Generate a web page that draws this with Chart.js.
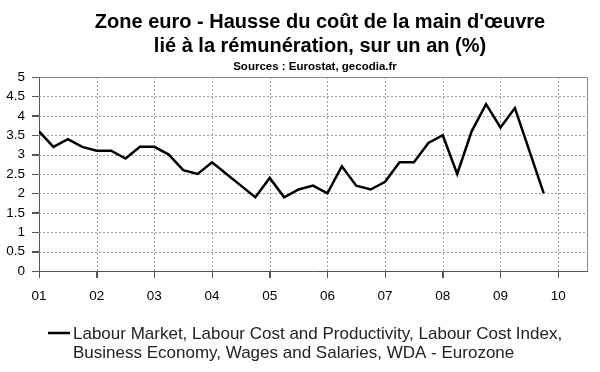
<!DOCTYPE html>
<html>
<head>
<meta charset="utf-8">
<script src="https://cdn.jsdelivr.net/npm/chart.js@4.4.0/dist/chart.umd.min.js"></script>
<style>
  html, body { margin: 0; padding: 0; background: #fff; }
  #wrap { width: 600px; height: 372px; }
</style>
</head>
<body>
<div id="wrap"><canvas id="chart" width="600" height="372"></canvas></div>
<script>
// titles and legend text
const titleLines = ["Zone euro - Hausse du coût de la main d'œuvre", "lié à la rémunération, sur un an (%)"];
const subtitle = "Sources : Eurostat, gecodia.fr";
const legendLines = [
  "Labour Market, Labour Cost and Productivity, Labour Cost Index,",
  "Business Economy, Wages and Salaries, WDA - Eurozone"
];

// x axis tick labels (one per year)
const yearLabels = ["01", "02", "03", "04", "05", "06", "07", "08", "09", "10"];

// quarterly periods and values (%)
const quarters = [
  "2001-T1", "2001-T2", "2001-T3", "2001-T4",
  "2002-T1", "2002-T2", "2002-T3", "2002-T4",
  "2003-T1", "2003-T2", "2003-T3", "2003-T4",
  "2004-T1", "2004-T2", "2004-T3", "2004-T4",
  "2005-T1", "2005-T2", "2005-T3", "2005-T4",
  "2006-T1", "2006-T2", "2006-T3", "2006-T4",
  "2007-T1", "2007-T2", "2007-T3", "2007-T4",
  "2008-T1", "2008-T2", "2008-T3", "2008-T4",
  "2009-T1", "2009-T2", "2009-T3", "2009-T4"
];
const values = [
  3.6, 3.2, 3.4, 3.2,
  3.1, 3.1, 2.9, 3.2,
  3.2, 3.0, 2.6, 2.5,
  2.8, 2.5, 2.2, 1.9,
  2.4, 1.9, 2.1, 2.2,
  2.0, 2.7, 2.2, 2.1,
  2.3, 2.8, 2.8, 3.3,
  3.5, 2.5, 3.6, 4.3,
  3.7, 4.2, 3.1, 2.0
];

const firstYear = 2001;
const font = '"Liberation Sans", Arial, sans-serif';

// turn "2003-T2" into a position on the year axis
function quarterPos(q) {
  const year = parseInt(q.slice(0, 4), 10);
  const n = parseInt(q.slice(-1), 10);
  return year + (n - 1) / 4;
}

const points = quarters.map((q, i) => ({ x: quarterPos(q), y: values[i] }));

// dotted grid + frame, then the title block and legend
const decorations = {
  id: "decorations",
  beforeDatasetsDraw(chart) {
    const { ctx, chartArea, scales } = chart;
    const { left, right, top, bottom } = chartArea;
    ctx.save();
    ctx.lineWidth = 1;

    // grid lines at the scale ticks
    ctx.strokeStyle = "#9e9e9e";
    ctx.setLineDash([2, 2]);
    ctx.beginPath();
    scales.x.ticks.forEach((t) => {
      const px = Math.round(scales.x.getPixelForValue(t.value)) + 0.5;
      if (px > left + 1 && px < right - 1) {
        ctx.moveTo(px, top);
        ctx.lineTo(px, bottom);
      }
    });
    scales.y.ticks.forEach((t) => {
      const py = Math.round(scales.y.getPixelForValue(t.value)) + 0.5;
      if (py > top + 1 && py < bottom - 1) {
        ctx.moveTo(left, py);
        ctx.lineTo(right, py);
      }
    });
    ctx.stroke();

    // tick marks outside the plot
    ctx.setLineDash([]);
    ctx.strokeStyle = "#555";
    ctx.beginPath();
    scales.x.ticks.forEach((t) => {
      const px = Math.round(scales.x.getPixelForValue(t.value)) + 0.5;
      ctx.moveTo(px, bottom);
      ctx.lineTo(px, bottom + 7);
    });
    scales.y.ticks.forEach((t) => {
      const py = Math.round(scales.y.getPixelForValue(t.value)) + 0.5;
      ctx.moveTo(left - 7, py);
      ctx.lineTo(left, py);
    });
    ctx.stroke();

    // frame on top and right
    ctx.strokeStyle = "#8a8a8a";
    ctx.beginPath();
    ctx.moveTo(left, Math.round(top) + 0.5);
    ctx.lineTo(Math.round(right) + 0.5, Math.round(top) + 0.5);
    ctx.lineTo(Math.round(right) + 0.5, bottom);
    ctx.stroke();
    ctx.restore();
  },
  afterDraw(chart) {
    const ctx = chart.ctx;
    ctx.save();
    ctx.fillStyle = "#000";
    ctx.textAlign = "center";
    ctx.textBaseline = "alphabetic";
    ctx.font = "bold 20px " + font;
    ctx.fillText(titleLines[0], 320, 28);
    ctx.fillText(titleLines[1], 320, 52);
    ctx.font = "bold 11.5px " + font;
    ctx.fillText(subtitle, 315, 70);

    // legend
    ctx.strokeStyle = "#000";
    ctx.lineWidth = 2.5;
    ctx.beginPath();
    ctx.moveTo(48, 333);
    ctx.lineTo(70, 333);
    ctx.stroke();
    ctx.textAlign = "left";
    ctx.font = "17px " + font;
    ctx.fillStyle = "#222";
    ctx.fillText(legendLines[0], 73, 339);
    ctx.fillText(legendLines[1], 73, 358);
    ctx.restore();
  }
};

new Chart(document.getElementById("chart"), {
  type: "line",
  data: {
    datasets: [{
      label: legendLines.join(" "),
      data: points,
      borderColor: "#000",
      borderWidth: 2.5,
      pointRadius: 0,
      tension: 0,
      fill: false
    }]
  },
  options: {
    responsive: false,
    animation: false,
    layout: { padding: { left: 0, right: 13, top: 77, bottom: 71 } },
    plugins: {
      legend: { display: false },
      title: { display: false },
      tooltip: { enabled: false }
    },
    scales: {
      x: {
        type: "linear",
        min: firstYear,
        max: firstYear + 9.5,
        afterFit: (scale) => { scale.height = 30; },
        ticks: {
          stepSize: 1,
          includeBounds: false,
          autoSkip: false,
          maxRotation: 0,
          padding: 10,
          color: "#000",
          font: { family: font, size: 13.5 },
          callback: (v) => Number.isInteger(v) ? yearLabels[v - firstYear] : null
        },
        grid: { drawOnChartArea: false, color: "#555", tickColor: "#555", tickLength: 7 },
        border: { color: "#555", width: 1 }
      },
      y: {
        min: 0,
        max: 5,
        afterFit: (scale) => { scale.width = 39; },
        ticks: {
          stepSize: 0.5,
          padding: 7,
          color: "#000",
          font: { family: font, size: 13.5 },
          callback: (v) => String(v)
        },
        grid: { drawOnChartArea: false, color: "#555", tickColor: "#555", tickLength: 7 },
        border: { color: "#555", width: 1 }
      }
    }
  },
  plugins: [decorations]
});
</script>
</body>
</html>
